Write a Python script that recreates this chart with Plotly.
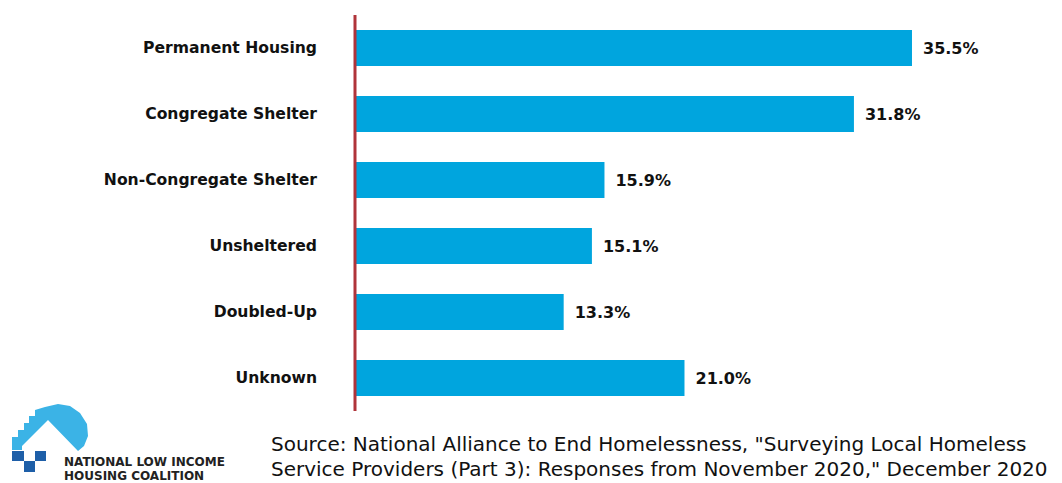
import plotly.graph_objects as go

categories = ["Permanent Housing", "Congregate Shelter", "Non-Congregate Shelter",
              "Unsheltered", "Doubled-Up", "Unknown"]
values = [35.5, 31.8, 15.9, 15.1, 13.3, 21.0]
value_labels = ["35.5%", "31.8%", "15.9%", "15.1%", "13.3%", "21.0%"]

W, H = 1062, 483
L, R, T, B = 355, 62, 15, 72
PW, PH = W - L - R, H - T - B

def px(x):
    return (x - L) / PW

def py(y):
    return (H - B - y) / PH

BLUE = "#00a5de"

fig = go.Figure(go.Bar(
    y=categories, x=values, orientation="h",
    marker=dict(color=BLUE, line=dict(width=0)),
    text=["\u2002" + s for s in value_labels], textposition="outside", cliponaxis=False,
    textfont=dict(family="DejaVu Sans", size=16, color="#111111", weight="bold"),
))

shapes = [
    dict(type="line", xref="paper", yref="paper", x0=0, x1=0, y0=0, y1=1,
         line=dict(color="#b0343a", width=3)),
]
shapes.append(dict(type="path", xref="paper", yref="paper",
    path=("M {a},{b} ".format(a=px(12), b=py(450)) +
          " ".join("L {a},{b}".format(a=px(x), b=py(y)) for x, y in [
              (12, 437), (18, 437), (18, 430), (24, 430), (24, 423), (29, 423), (29, 416),
              (35, 416), (35, 410), (45, 407), (58, 404), (70, 406), (80, 413), (87, 424),
              (88, 436), (84, 446), (78, 451), (48, 420), (22, 446), (22, 450)]) + " Z"),
    fillcolor="#3bb3e6", line=dict(width=0)))
for x0, y0, x1, y1 in [(12, 451, 24, 461), (24, 461, 35, 472), (35, 451, 46, 461)]:
    shapes.append(dict(type="rect", xref="paper", yref="paper",
                       x0=px(x0), x1=px(x1), y0=py(y1), y1=py(y0),
                       fillcolor="#1e5fa8", line=dict(width=0)))

logo_font = dict(family="DejaVu Sans", size=12, color="#222222", weight="bold")
src_font = dict(family="DejaVu Sans", size=20, color="#111111")
annotations = [
    dict(xref="paper", yref="paper", x=px(62), y=py(462), xanchor="left", yanchor="middle",
         text="NATIONAL LOW INCOME", showarrow=False, font=logo_font),
    dict(xref="paper", yref="paper", x=px(62), y=py(476), xanchor="left", yanchor="middle",
         text="HOUSING COALITION", showarrow=False, font=logo_font),
    dict(xref="paper", yref="paper", x=px(269), y=py(444), xanchor="left", yanchor="middle",
         text="Source: National Alliance to End Homelessness, \"Surveying Local Homeless",
         showarrow=False, font=src_font),
    dict(xref="paper", yref="paper", x=px(269), y=py(469), xanchor="left", yanchor="middle",
         text="Service Providers (Part 3): Responses from November 2020,\" December 2020",
         showarrow=False, font=src_font),
]

fig.update_layout(
    width=W, height=H,
    margin=dict(l=L, r=R, t=T, b=B),
    paper_bgcolor="white", plot_bgcolor="white",
    bargap=0.455,
    showlegend=False,
    xaxis=dict(range=[0, PW / 15.69], visible=False),
    yaxis=dict(autorange="reversed", showgrid=False, zeroline=False, showline=False,
               ticks="", ticklabelstandoff=37,
               tickfont=dict(family="DejaVu Sans", size=15.6, color="#111111", weight="bold")),
    shapes=shapes, annotations=annotations,
)

fig.write_html("out.html")
